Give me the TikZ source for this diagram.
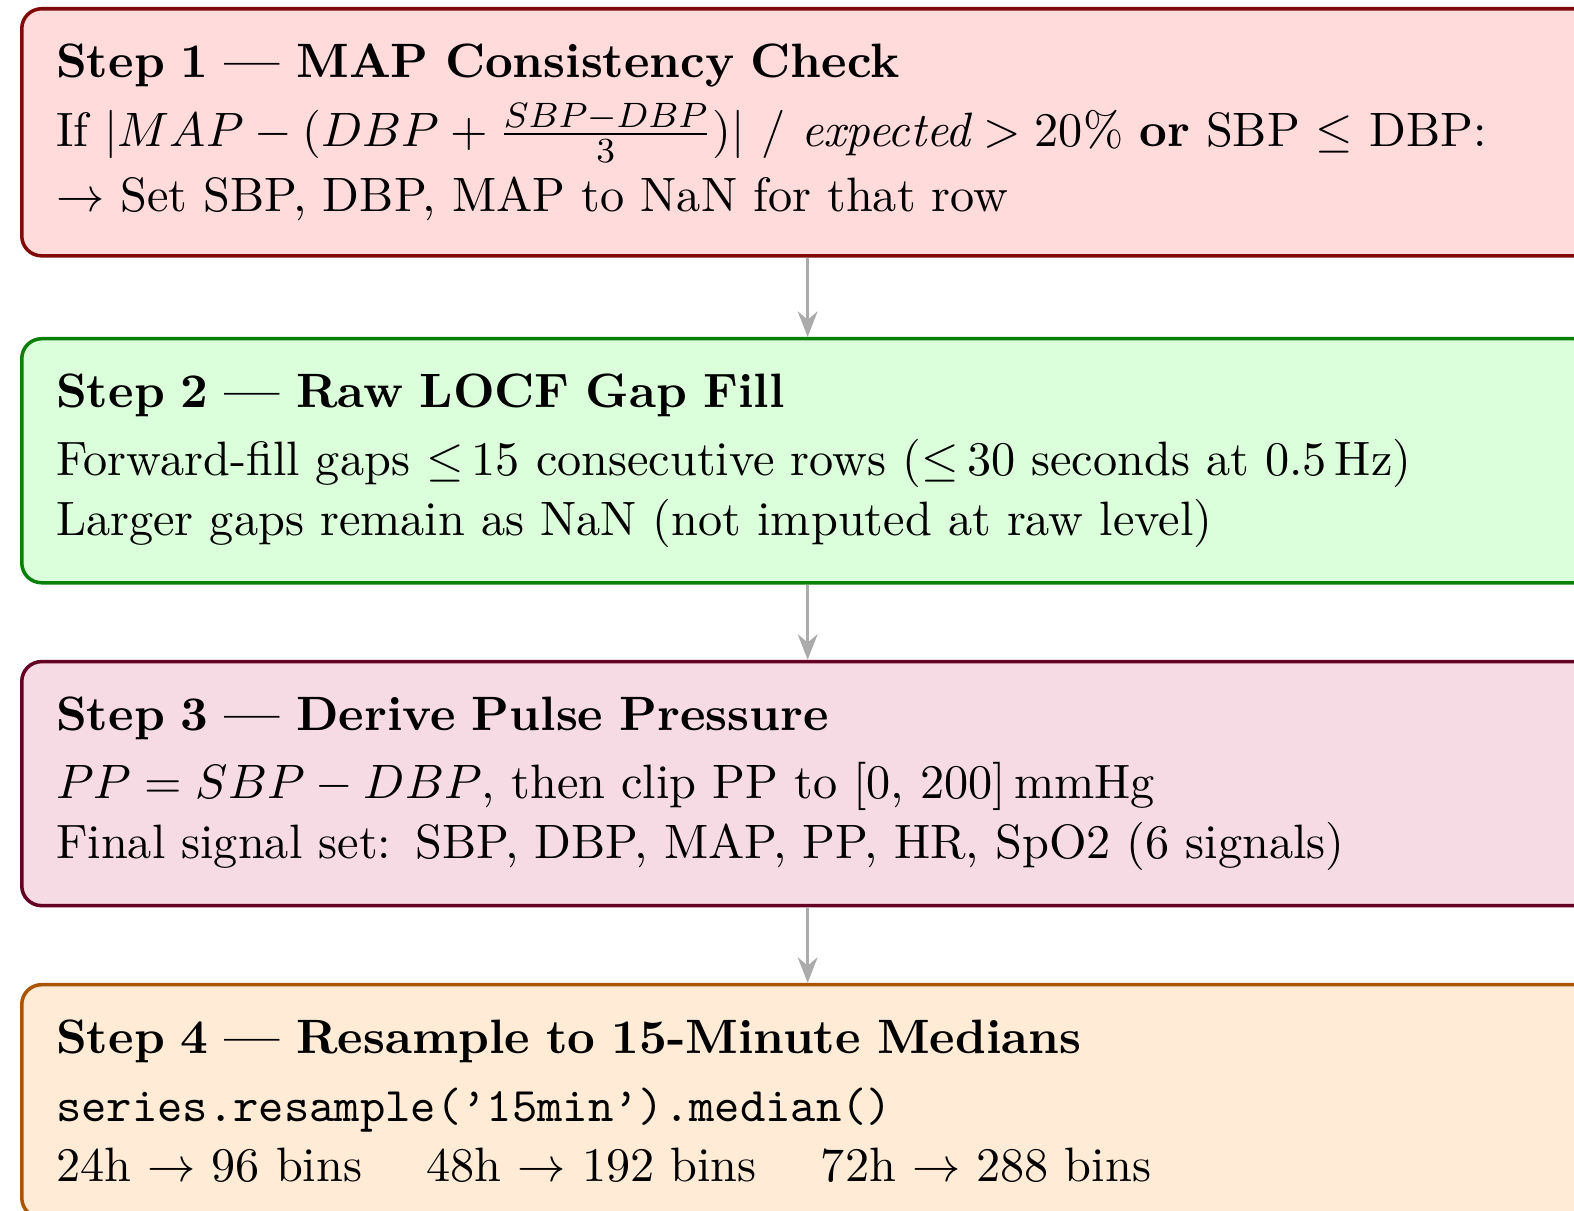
\documentclass[tikz,border=0pt]{standalone}
\usepackage{amsmath}
\usetikzlibrary{arrows.meta}

\definecolor{stepred}{RGB}{128,10,10}
\definecolor{stepgreen}{RGB}{10,128,10}
\definecolor{steppurple}{RGB}{100,0,35}
\definecolor{steporange}{RGB}{170,85,5}

\begin{document}
\begin{tikzpicture}
	\tikzstyle{stepbox}=[draw,thick,shape=rectangle,rounded corners=4.5pt,anchor=north west,align=left,text width=341pt,inner xsep=7.8pt,inner ysep=7.9pt,font=\fontsize{10.95pt}{13.6pt}\selectfont];
	\tikzstyle{flow}=[draw=black!33,semithick,-{Stealth[length=5.8pt,width=4.5pt]}];
	\clip (0,0) rectangle (357.1pt,-274.7pt);
	\node[stepbox,draw=stepred,fill=red!14] (s1) at (4.54pt,-1.59pt) {\textbf{Step 1 --- MAP Consistency Check}\\[2pt]
		If $|MAP - (DBP + \frac{SBP-DBP}{3})|\ /\ \textit{expected} > 20\%$ \textbf{or} SBP $\leq$ DBP:\\[1.3pt]
		$\rightarrow$ Set SBP, DBP, MAP to NaN for that row};
	\node[stepbox,draw=stepgreen,fill=green!14] (s2) at (4.54pt,-76.45pt) {\textbf{Step 2 --- Raw LOCF Gap Fill}\\[2pt]
		Forward-fill gaps $\leq$\,15 consecutive rows ($\leq$\,30 seconds at 0.5\,Hz)\\
		Larger gaps remain as NaN (not imputed at raw level)};
	\node[stepbox,draw=steppurple,fill=purple!14] (s3) at (4.54pt,-149.7pt) {\textbf{Step 3 --- Derive Pulse Pressure}\\[2pt]
		$PP = SBP - DBP$, then clip PP to [0, 200]\,mmHg\\
		Final signal set: SBP, DBP, MAP, PP, HR, SpO2 (6 signals)};
	\node[stepbox,draw=steporange,fill=orange!16] (s4) at (4.54pt,-223pt) {\textbf{Step 4 --- Resample to 15-Minute Medians}\\[2pt]
		\texttt{series.resample(\textquoteright 15min\textquoteright).median()}\\
		24h $\rightarrow$ 96 bins \quad 48h $\rightarrow$ 192 bins \quad 72h $\rightarrow$ 288 bins};
	\draw[flow] (s1) -- (s2);
	\draw[flow] (s2) -- (s3);
	\draw[flow] (s3) -- (s4);
\end{tikzpicture}
\end{document}
